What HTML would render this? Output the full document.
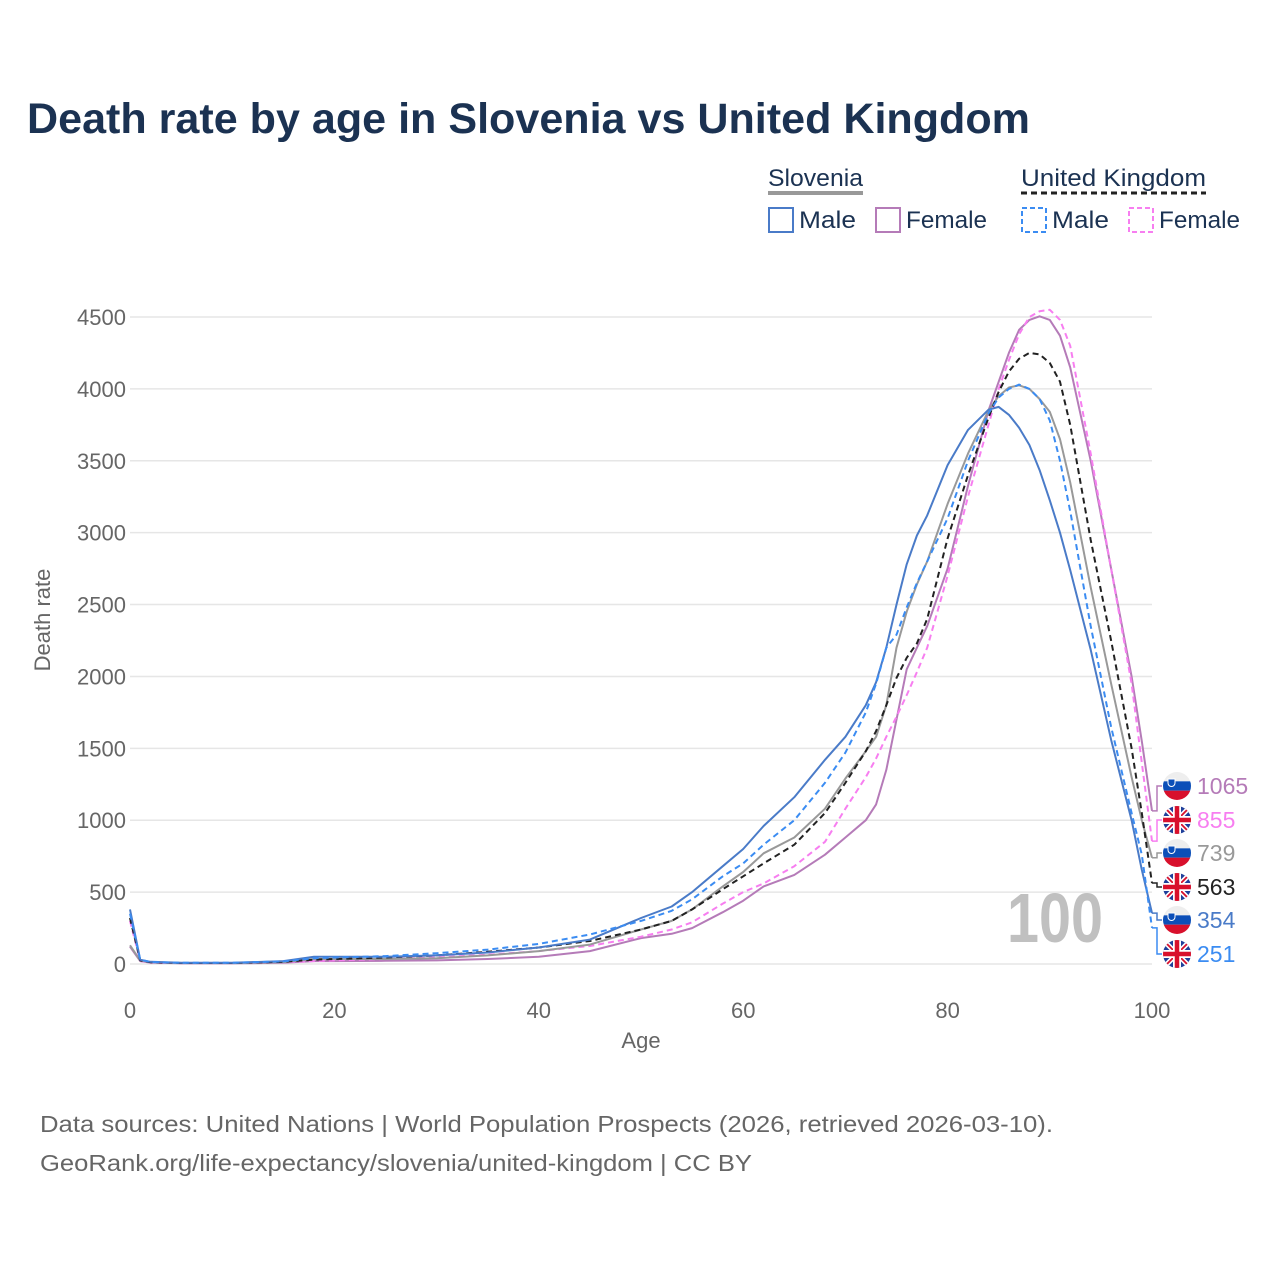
<!DOCTYPE html>
<html><head><meta charset="utf-8"><style>
body{margin:0;background:#fff;font-family:"Liberation Sans",sans-serif;}
#wrap{position:relative;width:1280px;height:1280px;overflow:hidden;}
</style></head><body>
<div id="wrap">
<svg id="svg" width="1280" height="1280" xmlns="http://www.w3.org/2000/svg">
<text x="27" y="133" font-size="43" font-weight="bold" fill="#1b3252" textLength="1003" lengthAdjust="spacingAndGlyphs">Death rate by age in Slovenia vs United Kingdom</text>
<g>
<text x="768" y="186" font-size="24" fill="#1b3252" textLength="95" lengthAdjust="spacingAndGlyphs">Slovenia</text>
<line x1="768" y1="193" x2="863" y2="193" stroke="#999" stroke-width="4"/>
<text x="1021" y="186" font-size="24" fill="#1b3252" textLength="185" lengthAdjust="spacingAndGlyphs">United Kingdom</text>
<line x1="1021" y1="193" x2="1206" y2="193" stroke="#222" stroke-width="3" stroke-dasharray="6,4"/>
<g><rect x="769" y="208" width="24" height="24" fill="none" stroke="#4a7bc8" stroke-width="2"/><text x="799" y="228" font-size="24" fill="#1b3252" textLength="57" lengthAdjust="spacingAndGlyphs">Male</text></g>
<g><rect x="876" y="208" width="24" height="24" fill="none" stroke="#b57bb8" stroke-width="2"/><text x="906" y="228" font-size="24" fill="#1b3252" textLength="81" lengthAdjust="spacingAndGlyphs">Female</text></g>
<g><rect x="1022" y="208" width="24" height="24" fill="none" stroke="#3b8cf2" stroke-width="2" stroke-dasharray="5,3"/><text x="1052" y="228" font-size="24" fill="#1b3252" textLength="57" lengthAdjust="spacingAndGlyphs">Male</text></g>
<g><rect x="1129" y="208" width="24" height="24" fill="none" stroke="#f77ef0" stroke-width="2" stroke-dasharray="5,3"/><text x="1159" y="228" font-size="24" fill="#1b3252" textLength="81" lengthAdjust="spacingAndGlyphs">Female</text></g>
</g>
<text x="1007" y="942" font-size="70" font-weight="bold" fill="#c0c0c0" textLength="96" lengthAdjust="spacingAndGlyphs">100</text>
<g id="grid"></g><g id="lines"></g><g id="labels"></g>
<text transform="translate(50,620) rotate(-90)" text-anchor="middle" font-size="22" fill="#666">Death rate</text>
<text x="641" y="1048" text-anchor="middle" font-size="22" fill="#666">Age</text>
<text x="40" y="1132" font-size="23" fill="#666" textLength="1013" lengthAdjust="spacingAndGlyphs">Data sources: United Nations | World Population Prospects (2026, retrieved 2026-03-10).</text>
<text x="40" y="1171" font-size="23" fill="#666" textLength="712" lengthAdjust="spacingAndGlyphs">GeoRank.org/life-expectancy/slovenia/united-kingdom | CC BY</text>
</svg>
</div>
<script>
const ages=[0,1,2,5,10,15,18,20,25,30,35,40,45,50,53,55,58,60,62,65,68,70,72,73,74,75,76,77,78,80,82,84,85,86,87,88,89,90,91,92,94,96,98,99,100];
const sloMale=[380,30,15,8,8,20,50,50,50,60,80,115,170,320,400,500,680,800,960,1160,1420,1580,1800,1960,2200,2500,2780,2980,3120,3470,3715,3855,3875,3820,3730,3610,3435,3225,3000,2740,2185,1560,1000,655,354];
const sloTotal=[130,25,12,6,6,12,35,35,35,40,60,90,135,240,300,380,540,640,770,880,1080,1290,1480,1580,1800,2200,2450,2640,2800,3200,3550,3850,3950,4010,4025,4000,3930,3840,3650,3350,2620,1950,1300,1000,739];
const ukTotal=[320,25,12,7,7,15,30,35,45,60,85,115,160,240,300,380,520,610,700,830,1050,1260,1480,1620,1800,1990,2130,2230,2400,2960,3400,3800,3980,4120,4210,4250,4240,4180,4050,3750,2950,2250,1500,1050,563];
const ukMale=[350,30,14,8,8,18,40,45,55,75,100,140,205,300,370,450,610,700,830,1000,1260,1470,1750,1950,2200,2290,2480,2650,2800,3100,3500,3830,3940,4000,4030,4000,3930,3780,3500,3150,2350,1650,1050,760,251];
const sloFemale=[120,20,10,5,5,8,20,20,22,25,35,50,90,180,210,250,360,440,540,620,760,880,1000,1110,1350,1700,2050,2200,2350,2750,3325,3850,4050,4250,4410,4480,4505,4480,4370,4150,3500,2750,2000,1550,1065];
const ukFemale=[300,22,10,6,6,12,20,25,35,45,65,90,125,190,240,290,420,500,560,680,850,1080,1300,1430,1580,1720,1870,2030,2200,2700,3250,3750,4000,4200,4380,4500,4540,4550,4480,4300,3550,2750,1950,1400,855];
const yTicks=[0,500,1000,1500,2000,2500,3000,3500,4000,4500];
const xTicks=[0,20,40,60,80,100];
const NS="http://www.w3.org/2000/svg";
const X=a=>130+a*10.22, Y=v=>964-v*(647/4500);
function mk(tag,attrs,parent){const e=document.createElementNS(NS,tag);for(const k in attrs)e.setAttribute(k,attrs[k]);parent.appendChild(e);return e;}
const grid=document.getElementById('grid');
yTicks.forEach(t=>{
 const l=mk('line',{x1:130,x2:1152,y1:Y(t),y2:Y(t),stroke:'#e6e6e6','stroke-width':1.5},grid);
 
 
 const tx=mk('text',{x:126,y:Y(t)+8,'text-anchor':'end','font-size':22,fill:'#666'},grid);
 tx.textContent=t;
 
 
});
xTicks.forEach(t=>{
 const tx=mk('text',{x:X(t),y:1018,'text-anchor':'middle','font-size':22,fill:'#666'},grid);
 tx.textContent=t;
 
 
});
const series=[
 {n:'slovenia-female',d:sloFemale,c:'#b57bb8',dash:null,ly:786,flag:'si'},
 {n:'uk-female',d:ukFemale,c:'#f77ef0',dash:'6,4',ly:820,flag:'uk'},
 {n:'slovenia-total',d:sloTotal,c:'#999999',dash:null,ly:853,flag:'si'},
 {n:'uk-total',d:ukTotal,c:'#222222',dash:'6,4',ly:887,flag:'uk'},
 {n:'slovenia-male',d:sloMale,c:'#4a7bc8',dash:null,ly:920,flag:'si'},
 {n:'uk-male',d:ukMale,c:'#3b8cf2',dash:'6,4',ly:954,flag:'uk'}
];
const lines=document.getElementById('lines'),labels=document.getElementById('labels');
series.forEach(s=>{
 const p=mk('path',{d:'M'+ages.map((a,i)=>X(a).toFixed(1)+','+Y(s.d[i]).toFixed(1)).join('L'),fill:'none',stroke:s.c,'stroke-width':2,'stroke-linejoin':'round'},lines);
 if(s.dash)p.setAttribute('stroke-dasharray',s.dash);
 
 
 const last=s.d[s.d.length-1];
 const ey=Y(last);
 const c=mk('path',{d:`M1152,${ey}L1157,${ey}L1157,${s.ly}L1162,${s.ly}`,fill:'none',stroke:s.c,'stroke-width':1.5},labels);
 
 
 const g=mk('g',{},labels);
 
 
 const cx=1177,cy=s.ly,r=14;
 const cid='clip'+s.n;
 const cp=mk('clipPath',{id:cid},g);mk('circle',{cx,cy,r},cp);
 const gg=mk('g',{'clip-path':`url(#${cid})`},g);
 if(s.flag==='si'){
  mk('rect',{x:cx-r,y:cy-r,width:2*r,height:2*r/3,fill:'#eee'},gg);
  mk('rect',{x:cx-r,y:cy-r/3,width:2*r,height:2*r/3,fill:'#0c4fb8'},gg);
  mk('rect',{x:cx-r,y:cy+r/3,width:2*r,height:2*r/3,fill:'#d8102c'},gg);
  mk('path',{d:`M${cx-9},${cy-7}h7v4a3.5,3.5 0 0 1 -7,0z`,fill:'#0c4fb8',stroke:'#fff','stroke-width':1},gg);
 }else{
  mk('rect',{x:cx-r,y:cy-r,width:2*r,height:2*r,fill:'#1f3f9a'},gg);
  mk('path',{d:`M${cx-r},${cy-r}L${cx+r},${cy+r}M${cx+r},${cy-r}L${cx-r},${cy+r}`,stroke:'#fff','stroke-width':5},gg);
  mk('path',{d:`M${cx-r},${cy-r}L${cx+r},${cy+r}M${cx+r},${cy-r}L${cx-r},${cy+r}`,stroke:'#d8102c','stroke-width':1.8},gg);
  mk('path',{d:`M${cx},${cy-r}V${cy+r}M${cx-r},${cy}H${cx+r}`,stroke:'#fff','stroke-width':8},gg);
  mk('path',{d:`M${cx},${cy-r}V${cy+r}M${cx-r},${cy}H${cx+r}`,stroke:'#d8102c','stroke-width':4.5},gg);
 }
 const t=mk('text',{x:1197,y:s.ly+8,'font-size':23,fill:s.c},labels);
 t.textContent=last;
 
 
});
</script>
</body></html>
